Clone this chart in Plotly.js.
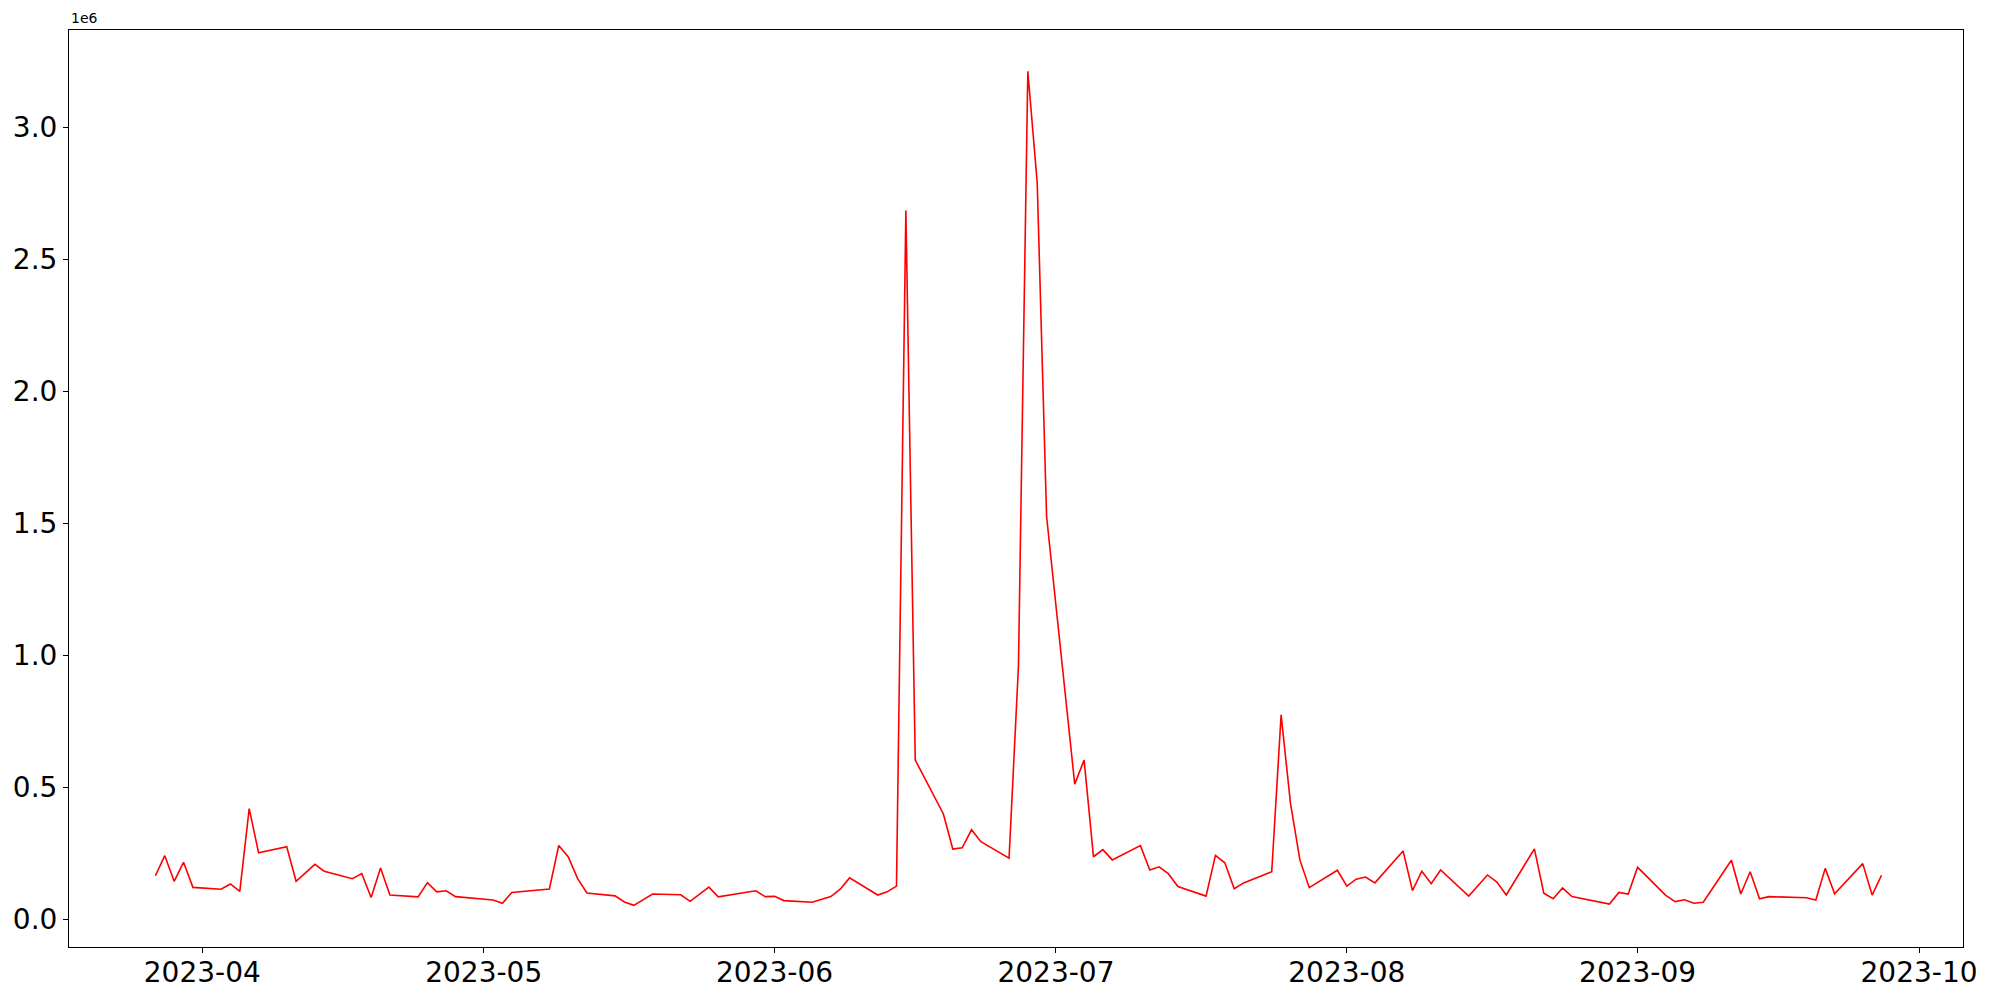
<!DOCTYPE html>
<html>
<head>
<meta charset="utf-8">
<script src="https://cdn.plot.ly/plotly-3.0.1.min.js"></script>
<style>html,body{margin:0;padding:0;background:#fff;}#chart{width:2000px;height:1000px;}</style>
</head>
<body>
<div id="chart"></div>
<script>
// Dates (trading days shown in the chart)
const dates = [
  "2023-03-27","2023-03-28","2023-03-29","2023-03-30","2023-03-31",
  "2023-04-03","2023-04-04","2023-04-05","2023-04-06","2023-04-07",
  "2023-04-10","2023-04-11","2023-04-13","2023-04-14",
  "2023-04-17","2023-04-18","2023-04-19","2023-04-20","2023-04-21",
  "2023-04-24","2023-04-25","2023-04-26","2023-04-27","2023-04-28",
  "2023-05-02","2023-05-03","2023-05-04",
  "2023-05-08","2023-05-09","2023-05-10","2023-05-11","2023-05-12",
  "2023-05-15","2023-05-16","2023-05-17","2023-05-19",
  "2023-05-22","2023-05-23","2023-05-25","2023-05-26",
  "2023-05-30","2023-05-31","2023-06-01","2023-06-02",
  "2023-06-05","2023-06-07","2023-06-08","2023-06-09",
  "2023-06-12","2023-06-13","2023-06-14","2023-06-15","2023-06-16",
  "2023-06-19","2023-06-20","2023-06-21","2023-06-22","2023-06-23",
  "2023-06-26","2023-06-27","2023-06-28","2023-06-29","2023-06-30",
  "2023-07-03","2023-07-04","2023-07-05","2023-07-06","2023-07-07",
  "2023-07-10","2023-07-11","2023-07-12","2023-07-13","2023-07-14",
  "2023-07-17","2023-07-18","2023-07-19","2023-07-20","2023-07-21",
  "2023-07-24","2023-07-25","2023-07-26","2023-07-27","2023-07-28",
  "2023-07-31","2023-08-01","2023-08-02","2023-08-03","2023-08-04",
  "2023-08-07","2023-08-08","2023-08-09","2023-08-10","2023-08-11",
  "2023-08-14","2023-08-16","2023-08-17","2023-08-18",
  "2023-08-21","2023-08-22","2023-08-23","2023-08-24","2023-08-25",
  "2023-08-29","2023-08-30","2023-08-31","2023-09-01",
  "2023-09-04","2023-09-05","2023-09-06","2023-09-07","2023-09-08",
  "2023-09-11","2023-09-12","2023-09-13","2023-09-14","2023-09-15",
  "2023-09-19","2023-09-20","2023-09-21","2023-09-22",
  "2023-09-25","2023-09-26","2023-09-27"
];

// Values in units of 1e6
const values = [
  0.166,0.242,0.145,0.217,0.122,
  0.115,0.135,0.107,0.420,0.253,
  0.276,0.145,0.209,0.183,
  0.155,0.174,0.084,0.195,0.093,
  0.086,0.140,0.105,0.109,0.087,
  0.074,0.062,0.103,
  0.116,0.281,0.238,0.156,0.101,
  0.090,0.067,0.054,0.097,
  0.094,0.069,0.123,0.086,
  0.109,0.087,0.088,0.072,
  0.066,0.087,0.115,0.158,
  0.093,0.105,0.127,2.685,0.604,
  0.400,0.267,0.272,0.340,0.295,
  0.233,0.958,3.212,2.790,1.526,
  0.513,0.604,0.238,0.265,0.226,
  0.280,0.188,0.200,0.173,0.125,
  0.089,0.243,0.215,0.117,0.139,
  0.181,0.775,0.440,0.226,0.121,
  0.187,0.127,0.153,0.161,0.139,
  0.260,0.110,0.183,0.136,0.188,
  0.089,0.169,0.142,0.093,
  0.268,0.100,0.079,0.120,0.087,
  0.059,0.103,0.097,0.198,
  0.092,0.068,0.075,0.062,0.066,
  0.225,0.097,0.181,0.079,0.087,
  0.083,0.074,0.194,0.098,
  0.212,0.093,0.168
];

const yTickVals = [0, 0.5, 1.0, 1.5, 2.0, 2.5, 3.0];
const yTickText = ["0.0", "0.5", "1.0", "1.5", "2.0", "2.5", "3.0"];
const xTickVals = ["2023-04-01","2023-05-01","2023-06-01","2023-07-01","2023-08-01","2023-09-01","2023-10-01"];
const xTickText = ["2023-04","2023-05","2023-06","2023-07","2023-08","2023-09","2023-10"];
const offsetLabel = "1e6";

const trace = {
  x: dates,
  y: values,
  type: "scatter",
  mode: "lines",
  line: {color: "red", width: 1.6},
  hoverinfo: "x+y"
};

const font = {family: "DejaVu Sans, sans-serif", color: "black"};

const layout = {
  width: 2000,
  height: 1000,
  paper_bgcolor: "white",
  plot_bgcolor: "white",
  showlegend: false,
  margin: {l: 69, r: 37, t: 30, b: 53, pad: 0},
  font: font,
  xaxis: {
    type: "date",
    range: ["2023-03-17 19:00", "2023-10-05 16:30"],
    tickvals: xTickVals,
    ticktext: xTickText,
    tickfont: {family: "DejaVu Sans, sans-serif", size: 28, color: "black"},
    ticklabelstandoff: -5,
    ticks: "outside",
    ticklen: 5,
    tickwidth: 1,
    tickcolor: "black",
    showgrid: false,
    zeroline: false,
    showline: true,
    linecolor: "black",
    linewidth: 1,
    mirror: true
  },
  yaxis: {
    range: [-0.1037, 3.368],
    tickvals: yTickVals,
    ticktext: yTickText,
    tickfont: {family: "DejaVu Sans, sans-serif", size: 28, color: "black"},
    ticks: "outside",
    ticklen: 5,
    tickwidth: 1,
    tickcolor: "black",
    showgrid: false,
    zeroline: false,
    showline: true,
    linecolor: "black",
    linewidth: 1,
    mirror: true
  },
  annotations: [{
    text: offsetLabel,
    xref: "paper", yref: "paper",
    x: 0, y: 1,
    xanchor: "left", yanchor: "bottom",
    yshift: 2,
    showarrow: false,
    font: {family: "DejaVu Sans, sans-serif", size: 14, color: "black"}
  }]
};

Plotly.newPlot("chart", [trace], layout, {displayModeBar: false, staticPlot: true});
</script>
</body>
</html>
